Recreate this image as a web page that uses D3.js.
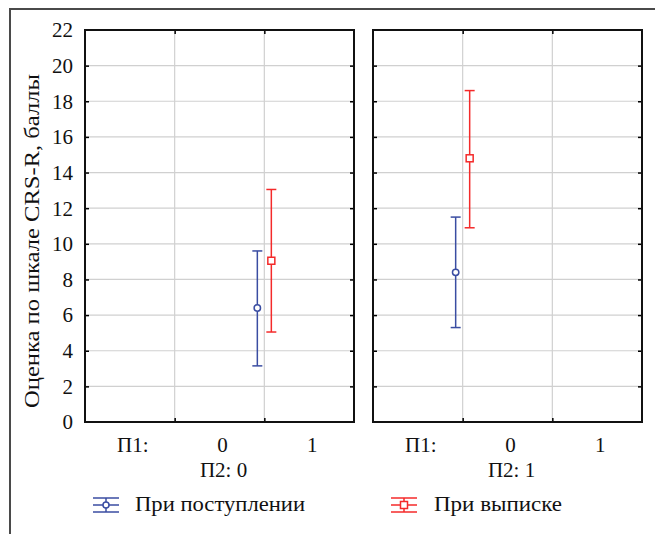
<!DOCTYPE html>
<html>
<head>
<meta charset="utf-8">
<script src="https://cdn.jsdelivr.net/npm/d3@7"></script>
<style>
  body { margin: 0; background: #fff; }
</style>
</head>
<body>
<div id="chart"></div>
<script>
// data
var panels = ["П2: 0", "П2: 1"];
var p1Labels = ["П1:", "0", "1"];
var seriesNames = ["При поступлении", "При выписке"];
var p1Pos = [2, 1];                 // where the points sit along the П1 axis, per panel
var admMean  = [6.4, 8.4];
var admLow   = [3.15, 5.3];
var admHigh  = [9.6, 11.5];
var disMean  = [9.05, 14.8];
var disLow   = [5.05, 10.9];
var disHigh  = [13.05, 18.6];
var yTicks = [0, 2, 4, 6, 8, 10, 12, 14, 16, 18, 20, 22];

var svgWidth = 655, svgHeight = 534;
var colors = ["#3a4da2", "#f42a2a"];
var dodge = [-7, 7];
var serif = "'Liberation Serif', 'Times New Roman', 'DejaVu Serif', serif";
var fs = 21;

var svg = d3.select("#chart").append("svg")
    .attr("width", svgWidth)
    .attr("height", svgHeight)
    .attr("font-family", serif);

// outer frame (runs off the right/bottom edge)
svg.append("rect")
    .attr("x", 10).attr("y", 9)
    .attr("width", 700).attr("height", 600)
    .attr("fill", "none")
    .attr("stroke", "#4a4a4a")
    .attr("stroke-width", 2);

var panelX = [[85, 354], [373, 642]];
var yScale = d3.scaleLinear().domain([0, 22]).range([422, 30]);

var series = [
    {name: seriesNames[0], mean: admMean, low: admLow, high: admHigh},
    {name: seriesNames[1], mean: disMean, low: disLow, high: disHigh}
];

panels.forEach(function(pname, pi) {
    var xScale = d3.scaleLinear().domain([0, 3]).range(panelX[pi]);
    var g = svg.append("g");

    // grid
    g.selectAll(".hgrid").data(yTicks.slice(1, -1)).enter().append("line")
        .attr("x1", panelX[pi][0]).attr("x2", panelX[pi][1])
        .attr("y1", d => yScale(d)).attr("y2", d => yScale(d))
        .attr("stroke", "#d0d0d0").attr("stroke-width", 1.2);
    g.selectAll(".vgrid").data([1, 2]).enter().append("line")
        .attr("x1", d => xScale(d)).attr("x2", d => xScale(d))
        .attr("y1", yScale(22)).attr("y2", yScale(0))
        .attr("stroke", "#d0d0d0").attr("stroke-width", 1.2);

    // inward ticks
    var yAxL = d3.axisRight(yScale).tickValues(yTicks.slice(1, -1)).tickSize(4).tickFormat("");
    var yAxR = d3.axisLeft(yScale).tickValues(yTicks.slice(1, -1)).tickSize(4).tickFormat("");
    var xAxB = d3.axisTop(xScale).tickValues([1, 2]).tickSize(4).tickFormat("");
    var xAxT = d3.axisBottom(xScale).tickValues([1, 2]).tickSize(4).tickFormat("");
    [[yAxL, panelX[pi][0], 0], [yAxR, panelX[pi][1], 0], [xAxB, 0, yScale(0)], [xAxT, 0, yScale(22)]].forEach(function(a) {
        var ag = g.append("g").attr("transform", `translate(${a[1]},${a[2]})`).call(a[0]);
        ag.select(".domain").remove();
        ag.selectAll("line").attr("stroke", "#000").attr("stroke-width", 1.5);
    });

    // frame
    g.append("rect")
        .attr("x", panelX[pi][0]).attr("y", yScale(22))
        .attr("width", panelX[pi][1] - panelX[pi][0])
        .attr("height", yScale(0) - yScale(22))
        .attr("fill", "none").attr("stroke", "#111").attr("stroke-width", 2);

    // y tick labels, left panel only
    if (pi === 0) {
        g.selectAll(".ylab").data(yTicks).enter().append("text")
            .attr("x", 73).attr("y", d => yScale(d))
            .attr("dy", "0.35em")
            .attr("text-anchor", "end")
            .attr("font-size", fs)
            .attr("fill", "#111")
            .text(d => d);
    }

    // x labels
    g.selectAll(".xlab").data(p1Labels).enter().append("text")
        .attr("x", (d, i) => xScale(i + 0.5) + 3)
        .attr("y", 452)
        .attr("text-anchor", "middle")
        .attr("font-size", fs)
        .attr("fill", "#111")
        .text(d => d);
    g.append("text")
        .attr("x", xScale(1.5) + 4)
        .attr("y", 477)
        .attr("text-anchor", "middle")
        .attr("font-size", fs)
        .attr("fill", "#111")
        .text(pname);

    // error bars
    series.forEach(function(s, si) {
        var cx = xScale(p1Pos[pi]) + dodge[si];
        var eg = g.append("g").attr("stroke", colors[si]).attr("fill", "none").attr("stroke-width", 1.5);
        eg.append("line").attr("x1", cx).attr("x2", cx)
            .attr("y1", yScale(s.low[pi])).attr("y2", yScale(s.high[pi]));
        [s.low[pi], s.high[pi]].forEach(function(v) {
            eg.append("line").attr("x1", cx - 5).attr("x2", cx + 5)
                .attr("y1", yScale(v)).attr("y2", yScale(v));
        });
        if (si === 0) {
            eg.append("circle").attr("cx", cx).attr("cy", yScale(s.mean[pi])).attr("r", 3.2).attr("fill", "#fff");
        } else {
            eg.append("rect").attr("x", cx - 3.5).attr("y", yScale(s.mean[pi]) - 3.5)
                .attr("width", 7).attr("height", 7).attr("fill", "#fff");
        }
    });
});

// y title
svg.append("text")
    .attr("transform", "translate(39, 241) rotate(-90)")
    .attr("text-anchor", "middle")
    .attr("font-size", 20)
    .attr("fill", "#111")
    .attr("textLength", 334)
    .attr("lengthAdjust", "spacingAndGlyphs")
    .text("Оценка по шкале CRS-R, баллы");

// legend
var legX = [106, 404];
var legLen = [170, 128];
series.forEach(function(s, si) {
    var lg = svg.append("g").attr("transform", `translate(${legX[si]},505)`);
    var sg = lg.append("g").attr("stroke", colors[si]).attr("stroke-width", 1.5).attr("fill", "none");
    [-7, 0, 7].forEach(function(dy) {
        sg.append("line").attr("x1", -13).attr("x2", 13).attr("y1", dy).attr("y2", dy);
    });
    sg.append("line").attr("x1", 0).attr("x2", 0).attr("y1", -7).attr("y2", 7);
    if (si === 0) {
        sg.append("circle").attr("r", 3).attr("fill", "#fff");
    } else {
        sg.append("rect").attr("x", -3.5).attr("y", -3.5).attr("width", 7).attr("height", 7).attr("fill", "#fff");
    }
    lg.append("text")
        .attr("x", si === 0 ? 29 : 30)
        .attr("y", 6)
        .attr("font-size", 20)
        .attr("fill", "#111")
        .attr("textLength", legLen[si])
        .attr("lengthAdjust", "spacingAndGlyphs")
        .text(s.name);
});
</script>
</body>
</html>
